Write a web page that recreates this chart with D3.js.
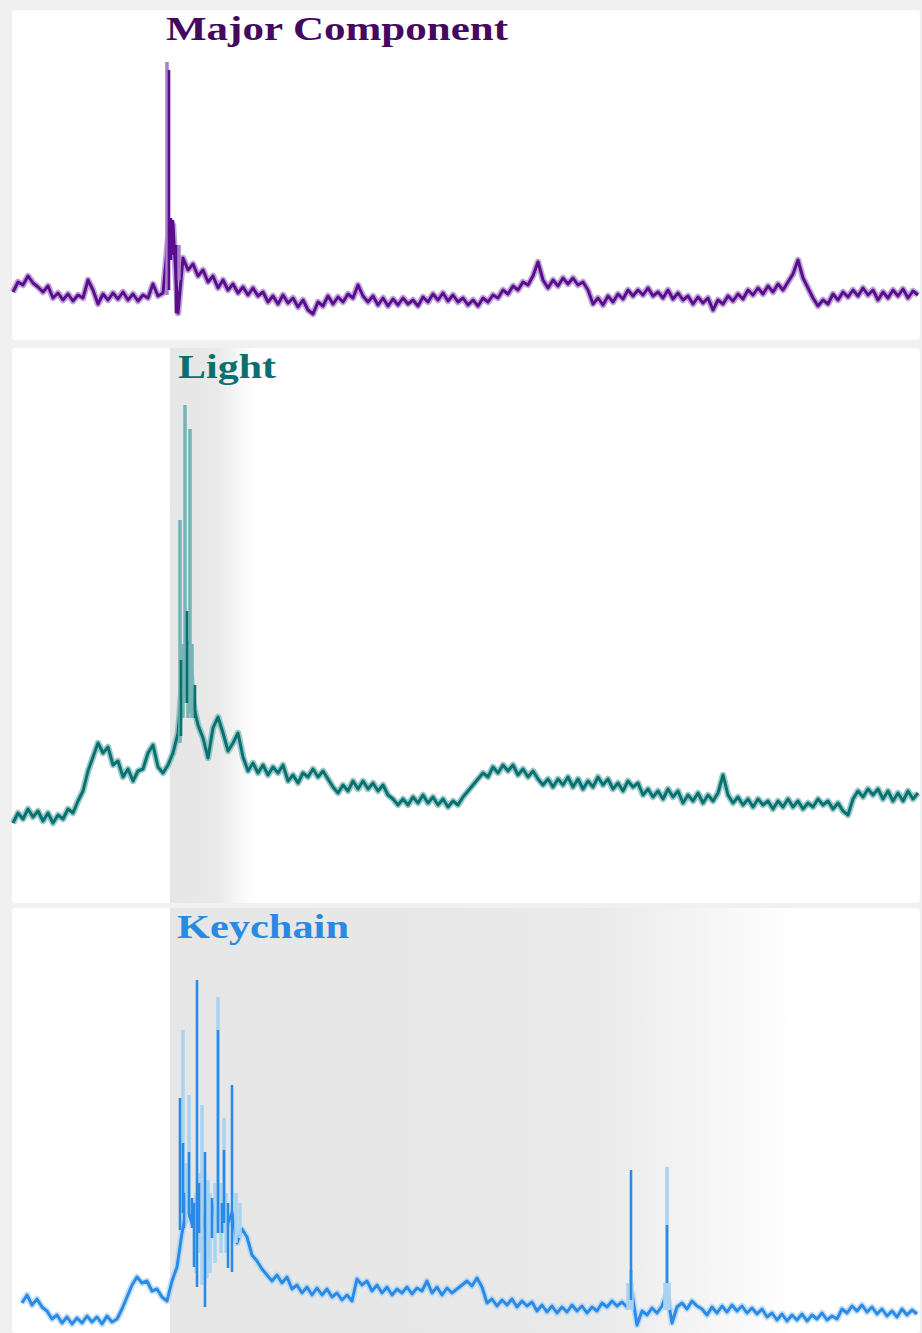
<!DOCTYPE html>
<html>
<head>
<meta charset="utf-8">
<script src="https://cdn.jsdelivr.net/npm/d3@7"></script>
<style>
    html, body { margin: 0; padding: 0; background: #f0f0f0; }
    svg { display: block; }
</style>
</head>
<body>
<svg id="chart" width="922" height="1333"></svg>
<script>
// Panel titles
var Titles = ["Major Component", "Light", "Keychain"];
// Sampling: every series is sampled each 5 time units, from its own start
var Step = 5;
var Starts = [1, 1, 10];
// Major component signal
var MajorValues = [
    48, 58, 55, 64, 57, 53, 48, 54, 42, 47, 40, 46, 39, 45, 42, 60, 50, 36, 46, 40,
    47, 41, 48, 40, 46, 39, 45, 42, 56, 44, 47, 100, 115, 27, 82, 70, 76, 64, 70, 58,
    64, 52, 60, 50, 56, 47, 53, 45, 52, 44, 48, 38, 44, 36, 45, 37, 42, 33, 40, 30,
    26, 38, 34, 44, 36, 43, 38, 46, 42, 55, 44, 38, 44, 35, 42, 34, 41, 35, 42, 36,
    40, 34, 43, 38, 46, 40, 47, 39, 45, 38, 42, 35, 40, 34, 42, 38, 45, 42, 50, 46,
    54, 50, 58, 55, 64, 78, 60, 52, 60, 54, 62, 56, 62, 55, 58, 50, 36, 42, 35, 44,
    38, 46, 41, 50, 44, 50, 45, 52, 44, 48, 42, 50, 41, 47, 40, 44, 36, 43, 37, 42,
    30, 40, 36, 44, 39, 46, 41, 50, 45, 52, 46, 54, 48, 56, 50, 58, 66, 80, 62, 52,
    42, 34, 40, 36, 46, 40, 48, 43, 50, 44, 52, 45, 50, 40, 48, 42, 50, 44, 51, 42,
    49, 45
];
// Light sensor signal
var LightValues = [
    80, 90, 84, 94, 86, 92, 82, 90, 80, 88, 84, 94, 90, 102, 112, 132, 146, 160, 150, 156,
    138, 142, 126, 134, 122, 132, 134, 150, 158, 136, 130, 138, 150, 170, 230, 260, 200, 178, 165, 145,
    175, 186, 170, 152, 160, 170, 146, 132, 140, 130, 138, 128, 136, 130, 138, 122, 128, 120, 130, 126,
    134, 126, 132, 124, 116, 110, 118, 112, 122, 114, 122, 114, 120, 112, 118, 108, 104, 98, 104, 98,
    106, 100, 108, 100, 106, 98, 104, 96, 102, 98, 106, 112, 118, 124, 130, 126, 136, 130, 138, 132,
    138, 128, 134, 126, 132, 124, 118, 124, 116, 124, 118, 126, 116, 124, 114, 122, 116, 126, 118, 124,
    114, 120, 112, 122, 116, 120, 108, 114, 106, 112, 104, 114, 106, 112, 100, 108, 102, 110, 100, 108,
    102, 110, 128, 108, 100, 106, 98, 104, 96, 104, 98, 102, 94, 102, 96, 104, 96, 102, 94, 100,
    96, 104, 98, 102, 94, 100, 92, 88, 104, 112, 106, 114, 108, 114, 104, 112, 102, 110, 102, 112,
    104, 110
];
// Keychain signal
var KeychainValues = [
    30, 38, 28, 34, 26, 22, 14, 18, 10, 16, 9, 15, 10, 17, 11, 16, 9, 17, 11, 14,
    24, 36, 48, 56, 50, 52, 42, 44, 36, 32, 52, 66, 100, 125, 110, 135, 118, 95, 128, 112,
    130, 108, 120, 90, 104, 96, 78, 72, 64, 58, 52, 58, 50, 56, 44, 48, 40, 46, 38, 45,
    38, 44, 36, 40, 33, 38, 32, 54, 48, 52, 42, 48, 40, 46, 38, 44, 40, 46, 39, 45,
    42, 52, 40, 46, 38, 45, 40, 44, 48, 52, 47, 55, 46, 30, 34, 27, 33, 28, 34, 26,
    32, 27, 31, 22, 28, 21, 27, 20, 26, 21, 28, 22, 27, 20, 26, 22, 30, 26, 32, 27,
    31, 26, 40, 8, 22, 18, 25, 20, 27, 40, 10, 26, 30, 24, 32, 27, 24, 18, 26, 20,
    27, 21, 28, 22, 27, 20, 25, 19, 24, 16, 20, 13, 19, 12, 18, 13, 19, 12, 18, 14,
    20, 13, 17, 14, 24, 20, 27, 22, 28, 21, 26, 19, 24, 17, 22, 16, 24, 18, 23, 19
];
// Spikes: [time, low, high, light (1) or dark (0)]
var MajorSpikes = [
    [155, 45, 278, 1], [157, 50, 270, 0], [159, 80, 122, 0], [161, 85, 120, 0],
    [164, 27, 95, 0], [167, 60, 95, 1]
];
var LightSpikes = [
    [168, 160, 383, 1], [169, 167, 243, 0], [171, 185, 259, 1], [173, 200, 498, 1],
    [175, 200, 292, 0], [176, 185, 259, 1], [178, 190, 474, 1], [180, 185, 259, 1],
    [183, 185, 218, 0]
];
var KeychainSpikes = [
    [168, 103, 235, 0], [171, 120, 303, 1], [171, 120, 190, 0], [174, 110, 170, 1],
    [177, 120, 238, 1], [177, 120, 181, 0], [182, 66, 130, 0], [185, 46, 353, 0],
    [188, 80, 160, 1], [190, 48, 228, 1], [193, 26, 181, 0], [196, 70, 153, 1],
    [198, 60, 140, 1], [206, 100, 336, 1], [206, 100, 303, 0], [209, 80, 150, 1],
    [212, 100, 215, 1], [212, 110, 183, 0], [216, 65, 130, 0], [220, 61, 248, 0],
    [224, 90, 140, 1], [172, 105, 140, 0], [180, 105, 135, 0], [187, 100, 150, 0],
    [200, 95, 135, 0], [210, 100, 130, 0], [184, 60, 140, 1], [195, 55, 130, 1],
    [203, 70, 150, 1], [214, 80, 140, 1], [228, 95, 130, 1],
    [616, 23, 50, 1], [618, 23, 50, 1], [620, 23, 50, 1],
    [619, 33, 163, 0], [619, 50, 63, 0], [653, 23, 50, 1], [655, 23, 50, 1],
    [657, 23, 50, 1], [655, 30, 166, 1], [655, 50, 108, 0]
];
// Shaded intervals in time units: [start, fade start, end]
var Shades = [null, [158, 205, 241], [158, 578, 783]];

// Layout and styles
var Panels = [
    { Top: 10, Bottom: 340, Max: 330, TitleY: 40, TitleX: 166, TitleW: 342, Title: "#44095f", Dark: "#5a0d8c", Light: "#a57fc7" },
    { Top: 348, Bottom: 903, Max: 555, TitleY: 378, TitleX: 178, TitleW: 98, Title: "#0b6f6f", Dark: "#0a7171", Light: "#74b4b4" },
    { Top: 908, Bottom: 1333, Max: 425, TitleY: 938, TitleX: 177, TitleW: 172, Title: "#2a8ae2", Dark: "#2a8ae6", Light: "#a9d3f0" }
];
var Series = [MajorValues, LightValues, KeychainValues];
var Spikes = [MajorSpikes, LightSpikes, KeychainSpikes];

var SVG = d3.select("#chart");
var Defs = SVG.append("defs");
var X = d3.scaleLinear().domain([0, 908]).range([12, 920]);

Panels.forEach((Panel, Index) => {
    var Y = d3.scaleLinear().domain([0, Panel.Max]).range([Panel.Bottom, Panel.Top]);
    var Group = SVG.append("g");
    // Panel background
    Group.append("rect")
        .attr("x", X(0)).attr("y", Panel.Top)
        .attr("width", X(908) - X(0)).attr("height", Panel.Bottom - Panel.Top)
        .attr("rx", 4).attr("fill", "#ffffff");
    // Shaded interval
    var Shade = Shades[Index];
    if (Shade) {
        var Id = `shade-${Index}`;
        var Gradient = Defs.append("linearGradient").attr("id", Id).attr("x1", "0").attr("x2", "1");
        var Offset = (Shade[1] - Shade[0]) / (Shade[2] - Shade[0]);
        Gradient.append("stop").attr("offset", 0).attr("stop-color", "#e6e6e6");
        Gradient.append("stop").attr("offset", Offset).attr("stop-color", "#e9e9e9");
        Gradient.append("stop").attr("offset", 1).attr("stop-color", "#ffffff");
        Group.append("rect")
            .attr("x", X(Shade[0])).attr("y", Panel.Top)
            .attr("width", X(Shade[2]) - X(Shade[0])).attr("height", Panel.Bottom - Panel.Top)
            .attr("fill", `url(#${Id})`);
    }
    // Signal line: a soft halo under a solid core
    var Points = Series[Index].map((Value, I) => [Starts[Index] + I * Step, Value]);
    var Line = d3.line().x(D => X(D[0])).y(D => Y(D[1]));
    Group.append("path").datum(Points)
        .attr("d", Line).attr("fill", "none")
        .attr("stroke", Panel.Light).attr("stroke-width", 6.5).attr("stroke-linejoin", "round")
        .attr("stroke-opacity", 0.7);
    Group.append("path").datum(Points)
        .attr("d", Line).attr("fill", "none")
        .attr("stroke", Panel.Dark).attr("stroke-width", 3).attr("stroke-linejoin", "round");
    // Spikes
    Group.selectAll(null)
        .data(Spikes[Index].slice().sort((A, B) => B[3] - A[3]))
        .enter()
        .append("line")
        .attr("x1", D => X(D[0])).attr("x2", D => X(D[0]))
        .attr("y1", D => Y(D[1])).attr("y2", D => Y(D[2]))
        .attr("stroke", D => D[3] ? Panel.Light : Panel.Dark)
        .attr("stroke-width", D => D[3] ? 3.5 : 2.6);
    // Title
    Group.append("text")
        .attr("x", Panel.TitleX).attr("y", Panel.TitleY)
        .attr("textLength", Panel.TitleW).attr("lengthAdjust", "spacingAndGlyphs")
        .attr("font-family", "'Liberation Serif', 'Times New Roman', serif")
        .attr("font-weight", "bold").attr("font-size", 33)
        .attr("fill", Panel.Title)
        .text(Titles[Index]);
});
</script>
</body>
</html>
